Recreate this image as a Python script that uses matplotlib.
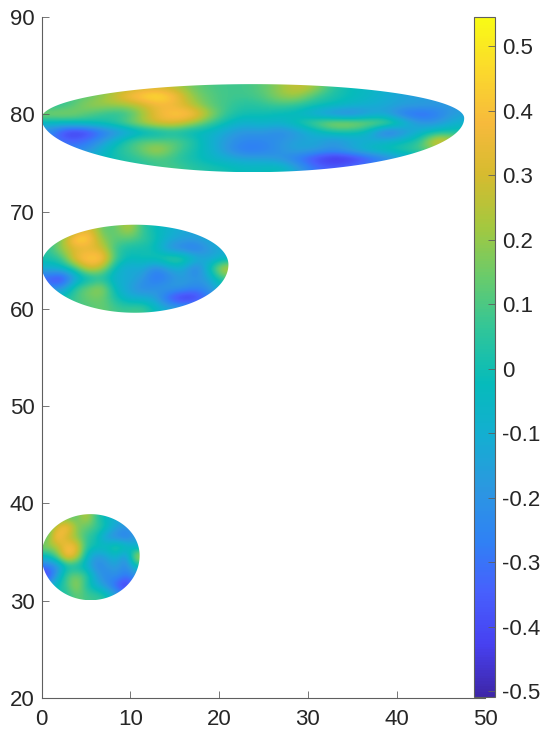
import numpy as np
import matplotlib
matplotlib.use("Agg")
import matplotlib.pyplot as plt
from matplotlib.cm import ScalarMappable
from matplotlib.colors import LinearSegmentedColormap, Normalize
from matplotlib.patches import Polygon

plt.rcParams["font.family"] = ["Liberation Sans", "DejaVu Sans"]

# parula style colour stops
PARULA = ["#3e26a8", "#4741f1", "#4760fd", "#2f82f4", "#2b98e0", "#14aed1", "#06bbbb",
          "#2fc59a", "#67cb6d", "#a4c83f", "#d6bb2f", "#f7ba3c", "#fbd92c", "#f9fb15"]

VMIN = -0.509
VMAX = 0.545
CBAR_TICKS = [-0.5, -0.4, -0.3, -0.2, -0.1, 0, 0.1, 0.2, 0.3, 0.4, 0.5]
CBAR_LABELS = ["-0.5", "-0.4", "-0.3", "-0.2", "-0.1", "0", "0.1", "0.2", "0.3", "0.4", "0.5"]
X_TICKS = [0, 10, 20, 30, 40, 50]
Y_TICKS = [20, 30, 40, 50, 60, 70, 80, 90]

# outline of each region: right end, top, tip level, bottom
LARGE_SHAPE = [47.6, 83.1, 79.6, 74.05]
MEDIUM_SHAPE = [21.05, 68.65, 64.55, 59.6]
SMALL_SHAPE = [11.05, 38.9, 34.65, 30.05]

# values, top row first
LARGE_FIELD = [
    [0.05, 0.05, 0.1, 0.15, 0.22, 0.28, 0.3, 0.25, 0.15, 0.1, 0.08, 0.08, 0.12, 0.2, 0.3, 0.22, 0.05, -0.02, -0.05, -0.1, -0.12, -0.15, -0.15, -0.15],
    [0.05, 0.08, 0.12, 0.2, 0.35, 0.46, 0.52, 0.42, 0.2, 0.12, 0.08, 0.08, 0.1, 0.2, 0.22, 0.08, 0.02, -0.02, -0.05, -0.1, -0.15, -0.18, -0.18, -0.18],
    [0.02, 0.08, 0.2, 0.22, 0.2, 0.25, 0.36, 0.36, 0.25, 0.12, 0.08, 0.03, 0.05, 0.08, 0.05, 0.0, -0.02, -0.06, -0.1, -0.12, -0.15, -0.15, -0.18, -0.18],
    [0.2, 0.2, 0.12, 0.05, 0.02, 0.15, 0.36, 0.44, 0.44, 0.22, 0.05, 0.0, 0.0, -0.03, -0.05, -0.15, -0.25, -0.3, -0.18, -0.15, -0.32, -0.35, -0.28, -0.15],
    [-0.05, -0.03, 0.0, 0.02, 0.1, 0.22, 0.32, 0.34, 0.22, 0.08, -0.02, -0.1, -0.05, -0.08, 0.02, 0.14, 0.25, 0.25, 0.2, 0.2, 0.0, -0.2, -0.18, -0.08],
    [-0.25, -0.48, -0.45, -0.3, -0.2, -0.1, -0.05, 0.0, -0.05, -0.05, -0.15, -0.2, -0.18, -0.25, -0.18, -0.08, 0.02, 0.02, -0.05, -0.38, -0.22, -0.08, 0.0, 0.02],
    [-0.25, -0.35, -0.3, -0.18, 0.0, 0.12, 0.1, 0.12, 0.05, -0.08, -0.18, -0.25, -0.25, -0.2, -0.15, -0.12, -0.22, -0.15, -0.12, -0.08, -0.03, 0.05, 0.42, 0.2],
    [-0.25, -0.25, -0.25, -0.05, 0.05, 0.12, 0.28, 0.12, 0.02, -0.06, -0.2, -0.3, -0.28, -0.2, -0.12, -0.15, -0.2, -0.12, -0.02, 0.02, 0.05, 0.1, 0.2, 0.15],
    [-0.05, -0.05, -0.05, -0.05, 0.02, 0.06, 0.1, 0.06, 0.0, -0.05, -0.1, -0.15, -0.15, -0.2, -0.3, -0.42, -0.5, -0.48, -0.38, -0.28, -0.15, -0.08, -0.05, -0.05],
    [-0.02, -0.02, -0.02, -0.02, 0.02, 0.02, 0.08, 0.1, 0.05, 0.02, 0.0, -0.03, -0.03, 0.0, -0.15, -0.3, -0.35, -0.3, -0.25, -0.15, -0.08, -0.05, -0.05, -0.05],
]
MEDIUM_FIELD = [
    [0.05, 0.05, 0.18, 0.35, 0.12, 0.12, 0.28, 0.06, -0.02, -0.08, -0.12, -0.15, -0.15, -0.15],
    [0.05, 0.18, 0.52, 0.46, 0.18, 0.12, 0.12, 0.08, 0.0, -0.1, -0.15, -0.15, -0.1, -0.08],
    [0.05, 0.22, 0.3, 0.32, 0.3, 0.06, 0.0, 0.0, -0.02, -0.22, -0.28, -0.32, -0.18, -0.12],
    [0.02, 0.06, 0.38, 0.46, 0.46, 0.08, -0.03, 0.0, 0.02, 0.12, 0.12, -0.05, -0.15, -0.08],
    [-0.1, -0.05, 0.06, 0.32, 0.22, -0.05, -0.15, -0.1, -0.28, -0.15, -0.1, -0.32, -0.03, 0.32],
    [-0.35, -0.48, -0.15, -0.05, 0.02, -0.1, -0.1, -0.18, -0.32, -0.25, -0.15, -0.2, -0.15, 0.08],
    [-0.25, -0.2, 0.08, 0.16, 0.24, -0.05, -0.15, -0.25, -0.2, -0.15, -0.18, -0.25, -0.2, -0.05],
    [-0.03, 0.02, 0.08, 0.15, 0.15, 0.02, -0.1, -0.1, -0.15, -0.38, -0.5, -0.46, -0.3, -0.15],
    [-0.03, 0.02, 0.08, 0.1, 0.15, 0.08, 0.08, 0.1, -0.03, -0.12, -0.15, -0.15, -0.15, -0.15],
]
SMALL_FIELD = [
    [0.05, 0.12, 0.12, 0.12, 0.28, 0.06, -0.05, -0.1, -0.15, -0.15],
    [0.05, 0.32, 0.46, 0.18, 0.12, 0.08, 0.0, -0.15, -0.2, -0.15],
    [0.1, 0.46, 0.26, 0.18, 0.06, 0.0, -0.2, -0.25, -0.3, -0.18],
    [0.2, 0.22, 0.42, 0.38, 0.04, 0.0, 0.0, 0.1, 0.02, -0.1],
    [-0.05, 0.12, 0.42, 0.3, -0.05, -0.2, -0.15, -0.05, -0.25, 0.3],
    [-0.3, -0.25, -0.03, -0.03, -0.08, -0.25, -0.2, -0.15, -0.25, -0.03],
    [-0.46, -0.15, 0.1, 0.16, 0.08, -0.15, -0.25, -0.2, -0.3, -0.2],
    [-0.15, -0.02, 0.08, 0.24, 0.02, -0.1, -0.2, -0.36, -0.48, -0.3],
    [-0.03, 0.02, 0.02, 0.14, 0.08, 0.08, 0.02, -0.15, -0.25, -0.25],
]

GRAY = "#5f5f5f"
TEXT = "#262626"
W, H = 541, 729


def draw_region(ax, field, shape, cmap, norm):
    x_right, y_top, y_tip, y_bottom = shape
    im = ax.imshow(field, extent=[0, x_right, y_bottom, y_top], origin="upper",
                   cmap=cmap, norm=norm, interpolation="bicubic", aspect="auto")
    t = np.linspace(0, np.pi, 120)
    xc = x_right / 2
    upper = np.column_stack([xc - xc * np.cos(t), y_tip + (y_top - y_tip) * np.sin(t)])
    lower = np.column_stack([xc + xc * np.cos(t), y_tip - (y_tip - y_bottom) * np.sin(t)])
    outline = Polygon(np.vstack([upper, lower]), closed=True, transform=ax.transData,
                      facecolor="none", edgecolor="none")
    ax.add_patch(outline)
    im.set_clip_path(outline)
    return im


fig = plt.figure(figsize=(W / 100, H / 100), dpi=100)
ax = fig.add_axes([41.5 / W, 1 - 698 / H, 444 / W, 681 / H])

cmap = LinearSegmentedColormap.from_list("parula_like", PARULA, N=256)
norm = Normalize(VMIN, VMAX)

draw_region(ax, LARGE_FIELD, LARGE_SHAPE, cmap, norm)
draw_region(ax, MEDIUM_FIELD, MEDIUM_SHAPE, cmap, norm)
draw_region(ax, SMALL_FIELD, SMALL_SHAPE, cmap, norm)

ax.set_xlim(0, 50)
ax.set_ylim(20, 90)
ax.set_xticks(X_TICKS)
ax.set_yticks(Y_TICKS)
ax.spines["top"].set_visible(False)
ax.spines["right"].set_visible(False)
for side in ["left", "bottom"]:
    ax.spines[side].set_color(GRAY)
    ax.spines[side].set_linewidth(0.8)
ax.tick_params(direction="in", length=5, width=0.6, color=GRAY, labelsize=16,
               labelcolor=TEXT)
ax.tick_params(axis="x", pad=8)
ax.tick_params(axis="y", pad=5)

cax = fig.add_axes([473.5 / W, 1 - 697 / H, 21.5 / W, 680 / H])
cbar = fig.colorbar(ScalarMappable(norm=norm, cmap=cmap), cax=cax)
cbar.set_ticks(CBAR_TICKS)
cbar.set_ticklabels(CBAR_LABELS)
cbar.outline.set_edgecolor(GRAY)
cbar.outline.set_linewidth(0.8)
cax.tick_params(direction="in", length=5, width=0.6, color=GRAY, labelsize=16,
                labelcolor=TEXT, pad=5)

fig.savefig("out.png", dpi=100)
